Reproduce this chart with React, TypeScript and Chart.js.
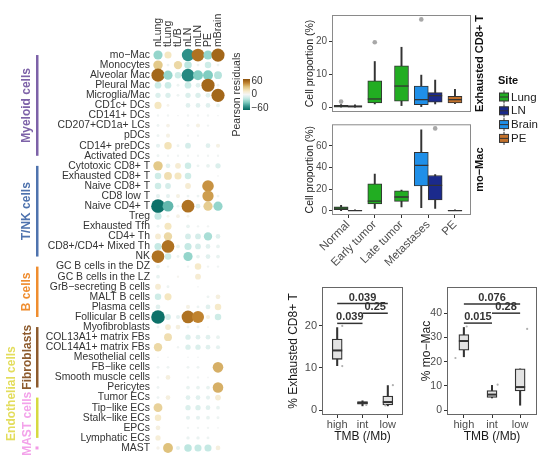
import React, { useEffect, useRef } from 'react';
import { Chart, registerables } from 'chart.js';

Chart.register(...registerables);

const FONT = "'Liberation Sans', Arial, Helvetica, sans-serif";
Chart.defaults.font.family = FONT;

// ---------------- Dot plot (Pearson residuals) ----------------
const samples = ['nLung', 'tLung', 'tL/B', 'nLN', 'mLN', 'PE', 'mBrain'];
const cellTypes = [
  'mo−Mac', 'Monocytes', 'Alveolar Mac', 'Pleural Mac', 'Microglia/Mac', 'CD1c+ DCs', 'CD141+ DCs',
  'CD207+CD1a+ LCs', 'pDCs', 'CD14+ preDCs', 'Activated DCs',
  'Cytotoxic CD8+ T', 'Exhausted CD8+ T', 'Naive CD8+ T', 'CD8 low T', 'Naive CD4+ T', 'Treg',
  'Exhausted Tfh', 'CD4+ Th', 'CD8+/CD4+ Mixed Th', 'NK',
  'GC B cells in the DZ', 'GC B cells in the LZ', 'GrB−secreting B cells', 'MALT B cells', 'Plasma cells',
  'Follicular B cells',
  'Myofibroblasts', 'COL13A1+ matrix FBs', 'COL14A1+ matrix FBs', 'Mesothelial cells', 'FB−like cells',
  'Smooth muscle cells', 'Pericytes',
  'Tumor ECs', 'Tip−like ECs', 'Stalk−like ECs', 'EPCs', 'Lymphatic ECs', 'MAST',
];
// one row per cell type, columns in `samples` order
const residuals = [
  [-30, 18, 0, -55, 58, -30, 62],
  [32, -3, 25, -20, -3, -15, -3],
  [62, -30, -15, -58, -35, -35, -22],
  [-16, -16, -3, -16, -8, 62, -3],
  [-10, -10, -3, -10, -10, -8, 62],
  [18, 3, 0, -8, -8, -8, -5],
  [-2, -2, -1, -2, -2, -2, -1],
  [-3, 5, 0, -3, 6, -2, 0],
  [-3, 6, 0, -2, -2, 0, 0],
  [-6, 20, -3, -12, 0, -8, 6],
  [-3, -2, -2, -2, -2, -2, -2],
  [32, -8, 12, -15, -3, -5, -10],
  [-15, 22, 18, -15, 0, 0, -1],
  [-15, -12, 0, 12, 0, 48, 0],
  [-6, -6, 6, -3, -3, 45, -3],
  [-66, -42, -3, 58, -8, 30, -30],
  [-18, 3, 5, 3, 0, 0, 0],
  [-3, 18, 0, -5, -2, -2, 0],
  [12, 25, 0, -12, -12, -25, -8],
  [-18, 58, -5, -18, -12, -8, -5],
  [58, -15, -3, -30, -5, -8, -5],
  [-5, -2, 0, -2, 15, -2, -2],
  [-5, 0, 2, 0, 12, 0, 0],
  [12, -3, 0, 0, -1, 0, 0],
  [-15, 18, 0, 0, 0, -3, 8],
  [-8, 0, 0, 6, -3, -8, 15],
  [-66, -12, -6, 58, 52, 6, -15],
  [-3, 12, 8, -3, -3, -1, 0],
  [0, 22, 0, -10, -8, -8, -5],
  [25, 0, -2, -10, -10, -8, -6],
  [-1, -1, 0, -1, -1, 0, 0],
  [-3, -3, 0, -3, -3, 0, 40],
  [-2, 8, 0, -2, -2, -1, 0],
  [-3, 0, 0, -5, -5, -5, 40],
  [-3, 8, 0, -8, -8, -6, 12],
  [28, 0, 0, -10, -10, -8, -5],
  [15, 0, 0, -6, -6, -5, -3],
  [8, 0, 0, -2, -2, -2, -1],
  [10, 0, 0, -4, -4, -3, 0],
  [4, 35, -6, -20, -18, -18, 8],
];
const residualBreaks = [60, 0, -60];
const residualLimit = 70;
const paletteStops = ['#01665e', '#35978f', '#80cdc1', '#c7eae5', '#f5f5f5', '#f6e8c3', '#dfc27d', '#bf812d', '#8c510a'];

const groupNames = ['Myeloid cells', 'T/NK cells', 'B cells', 'Fibroblasts', 'Endothelial cells', 'MAST cells'];
const groupFirst = ['mo−Mac', 'Cytotoxic CD8+ T', 'GC B cells in the DZ', 'Myofibroblasts', 'Tumor ECs', 'MAST'];
const groupLast = ['Activated DCs', 'NK', 'Follicular B cells', 'Pericytes', 'Lymphatic ECs', 'MAST'];
const groupBarColors = ['#7d62a8', '#4f73ae', '#ef8d2f', '#8d5b2e', '#d6da40', '#f29be6'];
const groupTextColors = ['#7d62a8', '#4f73ae', '#ef8d2f', '#8d5b2e', '#e3dd5c', '#f3a2ea'];

// ---------------- Site boxplots ----------------
const stages = ['Normal', 'Early tumor', 'Late tumor', 'Metastases', 'PE'];
const sites = ['Lung', 'LN', 'Brain', 'PE'];
const siteColors = ['#22ad22', '#1b2a8c', '#1f8fe8', '#c2712b'];
const boxStage = [0, 0, 1, 2, 3, 3, 4];
const boxSite = [0, 1, 0, 0, 2, 1, 3];
const boxSlot = [-1, 1, 0, 0, -1, 1, 0];

const exhMin = [0, 0, 1.1, 0.6, 0.3, 1.1, 1.2];
const exhQ1 = [0.1, 0.1, 1.4, 1.9, 0.9, 1.6, 1.4];
const exhMed = [0.4, 0.3, 2.6, 6.5, 2.4, 3.6, 2.4];
const exhQ3 = [0.7, 0.6, 8.1, 12.6, 6.5, 4.5, 3.4];
const exhMax = [0.9, 0.8, 13.9, 18.2, 9.8, 8.3, 5.5];
const exhOutBox = [0, 2, 4];
const exhOutVal = [1.8, 19.7, 26.6];

const macMin = [0.3, 0, 2.3, 3.7, 3, 2.3, 0];
const macQ1 = [1.2, 0.1, 6.5, 8.8, 23, 10, 0.1];
const macMed = [2.5, 0.3, 9, 12.8, 42, 23.5, 0.3];
const macQ3 = [3.8, 0.6, 25, 18.5, 54, 32.6, 0.6];
const macMax = [5.2, 0.9, 34, 19.2, 74.6, 33.5, 0.9];
const macOutBox = [5];
const macOutVal = [76];

// ---------------- TMB boxplots ----------------
const tmbGroups = ['high', 'int', 'low'];
const tmbExhMin = [10.5, 1.0, 1.0];
const tmbExhQ1 = [12.0, 1.4, 1.2];
const tmbExhMed = [14.1, 1.7, 1.9];
const tmbExhQ3 = [16.8, 2.0, 3.3];
const tmbExhMax = [19.5, 2.2, 5.8];
const tmbExhPtGroup = [0, 0, 1, 2, 2];
const tmbExhPtJitter = [0.2, 0.2, 0.15, 0.2, -0.1];
const tmbExhPtVal = [19.9, 10.4, 1.2, 5.9, 1.1];
const tmbExhCompA = [0, 1, 0];
const tmbExhCompB = [2, 2, 1];
const tmbExhCompY = [25.2, 22.9, 20.5];
const tmbExhCompP = ['0.039', '0.25', '0.039'];

const tmbMacMin = [22, 5, 2];
const tmbMacQ1 = [24.7, 5.2, 7.9];
const tmbMacMed = [28.5, 6.4, 9.5];
const tmbMacQ3 = [31.2, 8.1, 17];
const tmbMacMax = [34.1, 10.2, 17];
const tmbMacPtGroup = [0, 0, 1, 2];
const tmbMacPtJitter = [-0.3, 0.1, 0.2, 0.25];
const tmbMacPtVal = [21.5, 34.5, 10.5, 33.5];
const tmbMacCompA = [0, 1, 0];
const tmbMacCompB = [2, 2, 1];
const tmbMacCompY = [43.8, 40, 35.9];
const tmbMacCompP = ['0.076', '0.28', '0.015'];

// ---------------- helpers ----------------
function hexToRgb(h: string) {
  return [parseInt(h.slice(1, 3), 16), parseInt(h.slice(3, 5), 16), parseInt(h.slice(5, 7), 16)];
}
function colorFor(v: number) {
  const n = paletteStops.length - 1;
  const c = Math.max(-residualLimit, Math.min(residualLimit, v));
  const t = ((c + residualLimit) / (2 * residualLimit)) * n;
  const i = Math.min(n - 1, Math.floor(t));
  const f = t - i;
  const a = hexToRgb(paletteStops[i]);
  const b = hexToRgb(paletteStops[i + 1]);
  return `rgb(${Math.round(a[0] + (b[0] - a[0]) * f)},${Math.round(a[1] + (b[1] - a[1]) * f)},${Math.round(a[2] + (b[2] - a[2]) * f)})`;
}
function radiusFor(v: number) {
  return 7 * Math.sqrt(Math.min(Math.abs(v), residualLimit) / residualLimit);
}

const dotDecor = {
  id: 'dotDecor',
  afterDraw(chart: any) {
    const { ctx } = chart;
    const ys = chart.scales.y;
    ctx.save();
    const textX = [27, 27, 27, 28, 12, 28];
    const textCenterIdx: (number | null)[] = [null, null, null, null, 33.6, 36.6];
    groupNames.forEach((name, g) => {
      const y0 = ys.getPixelForValue(cellTypes.indexOf(groupFirst[g]));
      const y1 = ys.getPixelForValue(cellTypes.indexOf(groupLast[g]));
      ctx.fillStyle = groupBarColors[g];
      if (y1 - y0 < 2) ctx.fillRect(35.5, y0 - 1.5, 3, 3);
      else ctx.fillRect(36, y0, 2.5, y1 - y0);
      const ci = textCenterIdx[g];
      const cy = ci === null ? (y0 + y1) / 2 : ys.getPixelForValue(0) + (ys.getPixelForValue(1) - ys.getPixelForValue(0)) * ci;
      ctx.save();
      ctx.translate(textX[g], cy);
      ctx.rotate(-Math.PI / 2);
      ctx.fillStyle = groupTextColors[g];
      ctx.font = `bold 12px ${FONT}`;
      ctx.textAlign = 'center';
      ctx.textBaseline = 'middle';
      ctx.fillText(name, 0, 0);
      ctx.restore();
    });
    // colour bar
    const cbTop = 79, cbBottom = 110, cbLeft = 243, cbW = 7;
    const grad = ctx.createLinearGradient(0, cbBottom, 0, cbTop);
    for (let k = 0; k <= 20; k++) grad.addColorStop(k / 20, colorFor(-residualLimit + (2 * residualLimit * k) / 20));
    ctx.fillStyle = grad;
    ctx.fillRect(cbLeft, cbTop, cbW, cbBottom - cbTop);
    ctx.fillStyle = '#333';
    ctx.font = `10px ${FONT}`;
    ctx.textAlign = 'left';
    ctx.textBaseline = 'middle';
    residualBreaks.forEach((b) => {
      const yy = cbBottom - ((b + residualLimit) / (2 * residualLimit)) * (cbBottom - cbTop);
      ctx.fillText(String(b).replace('-', '−'), cbLeft + cbW + 1.5, yy);
    });
    ctx.save();
    ctx.translate(237, (cbTop + cbBottom) / 2);
    ctx.rotate(-Math.PI / 2);
    ctx.font = `10.5px ${FONT}`;
    ctx.textAlign = 'center';
    ctx.fillStyle = '#333';
    ctx.fillText('Pearson residuals', 0, 0);
    ctx.restore();
    ctx.restore();
  },
};

function buildDotPlot() {
  const points: any[] = [];
  const colors: string[] = [];
  cellTypes.forEach((ct, i) =>
    samples.forEach((s, j) => {
      const v = residuals[i][j];
      points.push({ x: s, y: ct, r: radiusFor(v) });
      colors.push(colorFor(v));
    })
  );
  return {
    type: 'bubble',
    data: { datasets: [{ data: points, backgroundColor: colors, borderWidth: 0, clip: false }] },
    options: {
      responsive: false,
      animation: false,
      events: [],
      layout: { padding: { left: 0, top: 0, right: 47, bottom: 12 } },
      plugins: { legend: { display: false }, tooltip: { enabled: false } },
      scales: {
        x: {
          type: 'category',
          labels: samples,
          position: 'top',
          offset: true,
          grid: { display: false, drawTicks: false },
          border: { display: false },
          ticks: {
            autoSkip: false, minRotation: 90, maxRotation: 90, padding: 3, labelOffset: 12.6,
            color: '#333', font: { size: 10.5 },
          },
          afterFit: (sc: any) => { sc.height = 50; sc.paddingLeft = 0; sc.paddingRight = 0; },
        },
        y: {
          type: 'category',
          labels: cellTypes,
          offset: true,
          grid: { display: false, drawTicks: false },
          border: { display: false },
          ticks: { autoSkip: false, padding: 3, color: '#333', font: { size: 10.4 } },
          afterFit: (sc: any) => { sc.width = 153; sc.paddingTop = 0; sc.paddingBottom = 0; },
        },
      },
    },
    plugins: [dotDecor],
  };
}

type BoxSpec = {
  cats: string[]; x: number[]; fills: string[];
  lo: number[]; q1: number[]; med: number[]; q3: number[]; hi: number[];
  ptX: number[]; ptY: number[]; ptR: number; ptColor: string;
  yMin: number; yMax: number; yTicks: number[]; yTitle: string;
  xMin: number; xMax: number; showX: boolean; xRotation: number; xTitle?: string;
  boxWidth: number; medianWidth: number; boxLine: number; whisker: number;
  pad: any; yWidth: number; xHeight: number;
  tickFont: number; xTickFont: number; titleFont: number;
  strip?: string; legend?: boolean;
  comps?: { a: number[]; b: number[]; y: number[]; p: string[] };
  frame: string;
};

function boxDecor(s: BoxSpec) {
  return {
    id: 'boxDecor',
    afterDraw(chart: any) {
      const { ctx, chartArea: a } = chart;
      ctx.save();
      ctx.strokeStyle = s.frame;
      ctx.lineWidth = 1;
      ctx.strokeRect(a.left + 0.5, a.top + 0.5, a.right - a.left - 1, a.bottom - a.top - 1);
      if (s.strip) {
        ctx.save();
        ctx.translate(a.right + 9, (a.top + a.bottom) / 2);
        ctx.rotate(-Math.PI / 2);
        ctx.font = `bold 11px ${FONT}`;
        ctx.fillStyle = '#111';
        ctx.textAlign = 'center';
        ctx.textBaseline = 'middle';
        ctx.fillText(s.strip, 0, 0);
        ctx.restore();
      }
      if (s.comps) {
        const xs = chart.scales.x, ys = chart.scales.y;
        ctx.font = `bold 11px ${FONT}`;
        ctx.fillStyle = '#333';
        ctx.textAlign = 'center';
        ctx.textBaseline = 'bottom';
        s.comps.a.forEach((ca, k) => {
          const cx = (xs.getPixelForValue(ca + 1) + xs.getPixelForValue(s.comps!.b[k] + 1)) / 2;
          ctx.fillText(s.comps!.p[k], cx, ys.getPixelForValue(s.comps!.y[k]) - 0.5);
        });
      }
      if (s.legend) {
        const lx = 208;
        ctx.font = `bold 11px ${FONT}`;
        ctx.fillStyle = '#111';
        ctx.textAlign = 'left';
        ctx.textBaseline = 'middle';
        ctx.fillText('Site', lx, 81);
        sites.forEach((name, k) => {
          const cy = 97 + k * 13.8;
          ctx.strokeStyle = '#333';
          ctx.lineWidth = 1;
          ctx.beginPath();
          ctx.moveTo(lx + 6, cy - 6.5); ctx.lineTo(lx + 6, cy + 6.5);
          ctx.stroke();
          ctx.fillStyle = siteColors[k];
          ctx.fillRect(lx + 1.5, cy - 4, 9, 8);
          ctx.strokeRect(lx + 1.5, cy - 4, 9, 8);
          ctx.beginPath();
          ctx.moveTo(lx + 1.5, cy); ctx.lineTo(lx + 10.5, cy);
          ctx.stroke();
          ctx.fillStyle = '#222';
          ctx.font = `11.5px ${FONT}`;
          ctx.fillText(name, lx + 13, cy + 0.5);
        });
      }
      ctx.restore();
    },
  };
}

function buildBox(s: BoxSpec) {
  const line = '#333';
  const datasets: any[] = [
    {
      type: 'bar', data: s.x.map((x, i) => ({ x, y: [s.lo[i], s.hi[i]] })), backgroundColor: line, borderWidth: 0,
      grouped: false, barThickness: s.whisker, order: 4,
    },
    {
      type: 'bar', data: s.x.map((x, i) => ({ x, y: [s.q1[i], s.q3[i]] })), backgroundColor: s.fills,
      borderColor: line, borderWidth: s.boxLine, borderSkipped: false, grouped: false, barThickness: s.boxWidth, order: 3,
    },
    {
      type: 'scatter', data: s.x.map((x, i) => ({ x, y: s.med[i] })), pointStyle: 'line', pointRadius: s.boxWidth / 2,
      pointBorderColor: line, pointBorderWidth: s.medianWidth, order: 2,
    },
    {
      type: 'scatter', data: s.ptX.map((x, i) => ({ x, y: s.ptY[i] })), pointRadius: s.ptR,
      pointBackgroundColor: s.ptColor, pointBorderWidth: 0, order: 1,
    },
  ];
  if (s.comps) {
    s.comps.a.forEach((ca, k) =>
      datasets.push({
        type: 'line', data: [{ x: ca + 1, y: s.comps!.y[k] }, { x: s.comps!.b[k] + 1, y: s.comps!.y[k] }],
        borderColor: line, borderWidth: 1.5, pointRadius: 0, order: 0,
      })
    );
  }
  return {
    type: 'bar',
    data: { datasets },
    options: {
      responsive: false,
      animation: false,
      events: [],
      layout: { padding: s.pad },
      plugins: { legend: { display: false }, tooltip: { enabled: false } },
      scales: {
        x: {
          type: 'linear', min: s.xMin, max: s.xMax, offset: false, display: s.showX,
          afterBuildTicks: (sc: any) => { sc.ticks = s.cats.map((_, i) => ({ value: i + 1 })); },
          grid: { drawOnChartArea: false, drawTicks: true, tickLength: 3, color: '#333', offset: false },
          border: { display: false },
          ticks: {
            autoSkip: false, minRotation: s.xRotation, maxRotation: s.xRotation, padding: 0,
            color: '#4d4d4d', font: { size: s.xTickFont },
            callback: (v: any) => s.cats[Math.round(Number(v)) - 1],
          },
          title: s.xTitle
            ? { display: true, text: s.xTitle, color: '#1a1a1a', font: { size: s.titleFont }, padding: { top: 4, bottom: 4 } }
            : { display: false },
          afterFit: (sc: any) => { sc.height = s.xHeight; sc.paddingLeft = 0; sc.paddingRight = 0; },
        },
        y: {
          type: 'linear', min: s.yMin, max: s.yMax,
          afterBuildTicks: (sc: any) => { sc.ticks = s.yTicks.map((v) => ({ value: v })); },
          grid: { drawOnChartArea: false, drawTicks: true, tickLength: 3, color: '#333' },
          border: { display: false },
          ticks: { padding: 2, color: '#4d4d4d', font: { size: s.tickFont }, callback: (v: any) => String(v) },
          title: { display: true, text: s.yTitle, color: '#1a1a1a', font: { size: s.titleFont }, padding: { top: 4, bottom: 4 } },
          afterFit: (sc: any) => { sc.width = s.yWidth; sc.paddingTop = 0; sc.paddingBottom = 0; },
        },
      },
    },
    plugins: [boxDecor(s)],
  };
}

const dodge = 0.26;
const sitePos = boxStage.map((st, i) => st + 1 + boxSlot[i] * dodge);
const siteFills = boxSite.map((k) => siteColors[k]);

function buildExh() {
  return buildBox({
    cats: stages, x: sitePos, fills: siteFills,
    lo: exhMin, q1: exhQ1, med: exhMed, q3: exhQ3, hi: exhMax,
    ptX: exhOutBox.map((b) => sitePos[b]), ptY: exhOutVal, ptR: 2.3, ptColor: '#a8a8a8',
    yMin: -1.33, yMax: 27.93, yTicks: [0, 10, 20], yTitle: 'Cell proportion (%)',
    xMin: 0.4, xMax: 5.6, showX: false, xRotation: 45,
    boxWidth: 14, medianWidth: 1.3, boxLine: 1, whisker: 1.3,
    pad: { left: 10, top: 15, right: 80, bottom: 38 }, yWidth: 32, xHeight: 0,
    tickFont: 10, xTickFont: 11.5, titleFont: 10.5,
    strip: 'Exhausted CD8+ T', legend: true, frame: '#8a8a8a',
  });
}
function buildMac() {
  return buildBox({
    cats: stages, x: sitePos, fills: siteFills,
    lo: macMin, q1: macQ1, med: macMed, q3: macQ3, hi: macMax,
    ptX: macOutBox.map((b) => sitePos[b]), ptY: macOutVal, ptR: 2.3, ptColor: '#a8a8a8',
    yMin: -3.8, yMax: 79.8, yTicks: [0, 20, 40, 60], yTitle: 'Cell proportion (%)',
    xMin: 0.4, xMax: 5.6, showX: true, xRotation: 45,
    boxWidth: 14, medianWidth: 1.3, boxLine: 1, whisker: 1.3,
    pad: { left: 10, top: 1, right: 19, bottom: 0 }, yWidth: 32, xHeight: 55,
    tickFont: 10, xTickFont: 11.5, titleFont: 10.5,
    strip: 'mo−Mac', frame: '#8a8a8a',
  });
}
function buildTmbExh() {
  return buildBox({
    cats: tmbGroups, x: tmbGroups.map((_, i) => i + 1), fills: tmbGroups.map(() => '#e3e3e3'),
    lo: tmbExhMin, q1: tmbExhQ1, med: tmbExhMed, q3: tmbExhQ3, hi: tmbExhMax,
    ptX: tmbExhPtGroup.map((g, i) => g + 1 + tmbExhPtJitter[i]), ptY: tmbExhPtVal, ptR: 1.1, ptColor: '#b0b0b0',
    yMin: -1.16, yMax: 29.1, yTicks: [0, 10, 20], yTitle: '% Exhausted CD8+ T',
    xMin: 0.4, xMax: 3.6, showX: true, xRotation: 0, xTitle: 'TMB (/Mb)',
    boxWidth: 10, medianWidth: 2, boxLine: 1.3, whisker: 1.4,
    pad: { left: 2, top: 5, right: 3, bottom: 0 }, yWidth: 40, xHeight: 33,
    tickFont: 11, xTickFont: 11, titleFont: 12,
    comps: { a: tmbExhCompA, b: tmbExhCompB, y: tmbExhCompY, p: tmbExhCompP }, frame: '#666',
  });
}
function buildTmbMac() {
  return buildBox({
    cats: tmbGroups, x: tmbGroups.map((_, i) => i + 1), fills: tmbGroups.map(() => '#e3e3e3'),
    lo: tmbMacMin, q1: tmbMacQ1, med: tmbMacMed, q3: tmbMacQ3, hi: tmbMacMax,
    ptX: tmbMacPtGroup.map((g, i) => g + 1 + tmbMacPtJitter[i]), ptY: tmbMacPtVal, ptR: 1.1, ptColor: '#b0b0b0',
    yMin: -2.03, yMax: 50.8, yTicks: [0, 10, 20, 30, 40], yTitle: '% mo−Mac',
    xMin: 0.4, xMax: 3.6, showX: true, xRotation: 0, xTitle: 'TMB (/Mb)',
    boxWidth: 10, medianWidth: 2, boxLine: 1.3, whisker: 1.4,
    pad: { left: 10, top: 5, right: 14, bottom: 0 }, yWidth: 32, xHeight: 33,
    tickFont: 10.5, xTickFont: 11, titleFont: 12,
    comps: { a: tmbMacCompA, b: tmbMacCompB, y: tmbMacCompY, p: tmbMacCompP }, frame: '#666',
  });
}

function ChartCanvas({ left, top, width, height, build }: { left: number; top: number; width: number; height: number; build: () => any }) {
  const ref = useRef<HTMLCanvasElement | null>(null);
  useEffect(() => {
    if (!ref.current) return;
    const chart = new Chart(ref.current, build());
    return () => chart.destroy();
  }, [build]);
  return (
    <canvas
      ref={ref}
      width={width}
      height={height}
      style={{ position: 'absolute', left, top, width, height }}
    />
  );
}

export default function App() {
  return (
    <div style={{ position: 'absolute', left: 0, top: 0, width: 551, height: 465, background: '#fff', overflow: 'hidden' }}>
      <ChartCanvas left={0} top={0} width={270} height={465} build={buildDotPlot} />
      <ChartCanvas left={290} top={0} width={261} height={150} build={buildExh} />
      <ChartCanvas left={290} top={116} width={200} height={154} build={buildMac} />
      <ChartCanvas left={280} top={280} width={130} height={168} build={buildTmbExh} />
      <ChartCanvas left={405} top={280} width={146} height={168} build={buildTmbMac} />
    </div>
  );
}
